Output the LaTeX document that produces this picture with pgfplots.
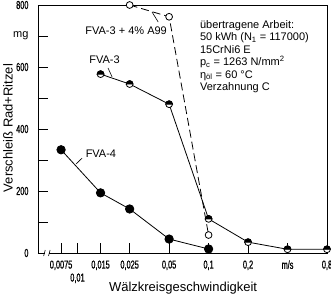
\documentclass[border=0pt]{standalone}
\usepackage{pgfplots}
\pgfplotsset{compat=1.18}
\usepackage{fontspec}
\setmainfont{Liberation Sans}
\newfontfamily\tickfont[FakeStretch=0.64,FakeBold=0.8]{Liberation Sans}
\pgfdeclareplotmark{halfcirc}{%
  \pgfpathcircle{\pgfpointorigin}{\pgfplotmarksize}%
  \pgfsetfillcolor{white}\pgfusepathqfillstroke
  \pgfpathmoveto{\pgfpoint{\pgfplotmarksize}{0pt}}%
  \pgfpatharc{0}{180}{\pgfplotmarksize}%
  \pgfpathclose
  \pgfsetfillcolor{black}\pgfusepathqfillstroke}

\begin{document}
\begin{tikzpicture}
\useasboundingbox (-38bp,-45bp) rectangle (293bp,253bp);
\begin{axis}[
  scale only axis, width=289bp, height=248bp,
  xmode=log, xmin=0.005, xmax=0.8, ymin=0, ymax=800,
  axis line style={line width=0.9bp},
  xtick={0.0075,0.015,0.025,0.05,0.1,0.2,0.4,0.8},
  xticklabels={{0{,}0075},{0{,}015},{0{,}025},{0{,}05},{0{,}1},{0{,}2},{m/s},{0{,}8}},
  extra x ticks={0.01}, extra x tick labels={{0{,}01}},
  extra x tick style={xticklabel style={yshift=-13bp}},
  minor xtick={},
  ytick={0,100,...,800},
  yticklabels={0,,200,,400,,600,{\normalfont\fontsize{11bp}{11bp}\selectfont mg},800},
  xtick pos=bottom, ytick pos=left, tick align=inside,
  major tick length=10bp,
  tick style={line width=0.8bp, black},
  tick label style={font=\tickfont\fontsize{11.5bp}{11.5bp}\selectfont},
  xticklabel style={yshift=-4bp},
  yticklabel style={xshift=-6bp},
  clip=false,
]
\addplot[black, line width=0.8bp, dash pattern=on 8bp off 4bp, mark=*, mark size=3.4bp, mark options={solid, fill=white}]
  coordinates {(0.025,800) (0.05,762) (0.1,58)};
\addplot[black, line width=0.8bp, mark=halfcirc, mark size=3.4bp, mark options={solid}]
  coordinates {(0.015,577) (0.025,545) (0.05,480) (0.1,110) (0.2,35) (0.4,12) (0.8,12)};
\addplot[black, line width=0.8bp, mark=*, mark size=4.2bp, mark options={fill=black}]
  coordinates {(0.0075,333) (0.015,194) (0.025,142) (0.05,45) (0.1,13)};
% axis break
\path (axis cs:0.00585,0) node[fill=white, inner sep=0pt, minimum width=4bp, minimum height=3bp]{};
\draw[line width=0.6bp] (axis cs:0.0056,0) ++(-0.8bp,-3bp) -- ++(1.6bp,6bp);
\draw[line width=0.6bp] (axis cs:0.0061,0) ++(-0.8bp,-3bp) -- ++(1.6bp,6bp);
% curve labels
\node[font=\fontsize{11bp}{11bp}\selectfont] at (axis cs:0.0235,716) {FVA-3 + 4\% A99};
\node[font=\fontsize{11bp}{11bp}\selectfont] at (axis cs:0.0161,623) {FVA-3};
\node[font=\fontsize{11bp}{11bp}\selectfont] at (axis cs:0.0151,319) {FVA-4};
\draw[line width=0.6bp] (axis cs:0.0371,777) -- (axis cs:0.0413,745);
\draw[line width=0.6bp] (axis cs:0.0171,597) -- (axis cs:0.01836,568);
\draw[line width=0.6bp] (axis cs:0.01084,306) -- (axis cs:0.00975,287);
% annotation
\node[anchor=north west, align=left, inner sep=0pt, font=\fontsize{11bp}{12.5bp}\selectfont] at (rel axis cs:0.56,0.94)
  {übertragene Arbeit:\\50 kWh (N\textsubscript{1} = 117000)\\15CrNi6 E\\p\textsubscript{c} = 1263 N/mm\textsuperscript{2}\\η\textsubscript{öl} = 60 °C\\Verzahnung C};
% axis labels
\path (rel axis cs:0.502,0) ++(0bp,-35bp) node[font=\fontsize{13bp}{13bp}\selectfont] {Wälzkreisgeschwindigkeit};
\path (rel axis cs:0,0.504) ++(-30bp,0bp) node[rotate=90, font=\fontsize{13bp}{13bp}\selectfont] {Verschleiß Rad+Ritzel};
\end{axis}
\end{tikzpicture}
\end{document}
